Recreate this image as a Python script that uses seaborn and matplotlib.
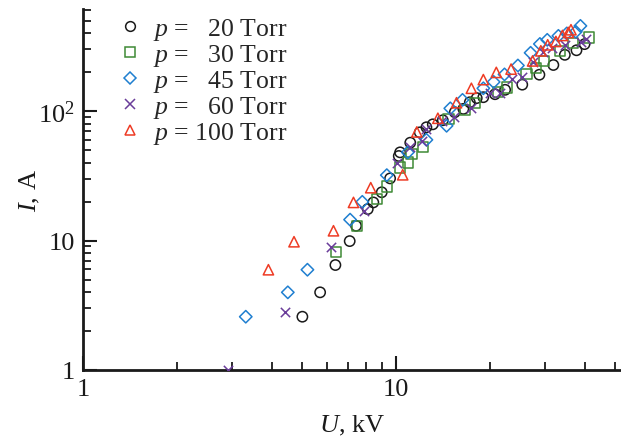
import numpy as np
import pandas as pd
import matplotlib
matplotlib.use("Agg")
import matplotlib.pyplot as plt
import seaborn as sns
from matplotlib.lines import Line2D
from matplotlib.ticker import FixedLocator, FixedFormatter, LogLocator, NullFormatter

# ---- data ----
u_20 = [5.02, 5.72, 6.4, 7.11, 7.45, 8.12, 8.46, 9.0, 9.57, 10.2, 10.3, 11.1, 11.9, 12.5, 13.1,
        14.1, 15.4, 16.4, 17.2, 18.1, 19.0, 20.7, 22.3, 25.3, 28.7, 31.8, 34.6, 37.7, 40.0]
i_20 = [2.58, 3.98, 6.47, 9.9, 13.0, 17.5, 19.7, 23.6, 30.2, 45, 48, 57, 68.5, 75, 79,
        85, 98, 104, 117, 126, 128, 135, 146, 160, 191, 227, 272, 295, 329]

u_30 = [6.43, 7.5, 8.67, 9.34, 10.3, 10.9, 11.2, 12.2, 14.7, 16.6, 17.9, 21.2, 22.6, 26.1,
        28.0, 29.7, 33.4, 36.8, 41.3]
i_30 = [8.19, 13, 20.9, 26.2, 36.7, 40, 46.5, 53, 86.8, 102, 116, 140, 152, 193,
        215, 244, 290, 335, 370]

u_45 = [3.31, 4.51, 5.21, 7.13, 7.8, 9.34, 10.9, 12.5, 14.5, 14.9, 16.3, 19.0, 20.5, 22.2,
        24.5, 26.9, 28.8, 30.4, 33.0, 35.1, 37.5, 38.8]
i_45 = [2.58, 3.98, 5.95, 14.5, 19.9, 32, 48, 60, 77, 105, 122, 150, 168, 192,
        225, 282, 330, 355, 381, 398, 410, 455]

u_60 = [2.91, 4.42, 6.2, 7.92, 10.1, 11.1, 12.1, 12.5, 14.0, 15.3, 17.3, 20.0, 21.5, 23.4,
        25.2, 27.3, 29.5, 31.4, 34.7, 39.0, 40.5]
i_60 = [1.0, 2.79, 8.96, 17.0, 39.7, 52.5, 59, 72.6, 84, 90, 105, 137, 139, 176,
        182, 240, 284, 305, 323, 339, 360]

u_100 = [3.91, 4.72, 6.31, 7.31, 8.3, 10.5, 11.65, 13.6, 15.6, 17.4, 19.0, 20.9, 23.3, 27.3,
         29.0, 30.5, 32.4, 34.0, 35.5, 36.2]
i_100 = [5.95, 9.79, 11.9, 19.7, 25.6, 32.2, 69, 88, 116, 150, 175, 199, 211, 244,
         292, 325, 345, 384, 405, 425]

pressures = [20, 30, 45, 60, 100]
labels = [r"$p$ =   20 Torr", r"$p$ =   30 Torr", r"$p$ =   45 Torr",
          r"$p$ =   60 Torr", r"$p$ = 100 Torr"]
series_u = [u_20, u_30, u_45, u_60, u_100]
series_i = [i_20, i_30, i_45, i_60, i_100]

x_ticks = [1, 10]
x_ticklabels = ["1", "10"]
y_ticks = [1, 10, 100]
y_ticklabels = ["1", "10", r"$10^2$"]

# ---- style ----
sns.set_theme(style="ticks")
plt.rcParams["font.family"] = ["Liberation Serif", "DejaVu Serif"]
plt.rcParams["mathtext.fontset"] = "custom"
plt.rcParams["mathtext.rm"] = "Liberation Serif"
plt.rcParams["mathtext.it"] = "Liberation Serif:italic"

colors = ["#1a1a1a", "#3f8a35", "#1f7fd0", "#6a3d9a", "#ee3b24"]
markers = ["o", "s", "D", "x", "^"]
sizes = [55, 55, 40, 45, 55]

frames = []
for p, u, i in zip(pressures, series_u, series_i):
    frames.append(pd.DataFrame({"U": u, "I": i, "p": p}))
df = pd.concat(frames, ignore_index=True)

fig = plt.figure(figsize=(6.21, 4.39), dpi=100)
ax = fig.add_axes([0.1337, 0.1549, 0.8663, 0.822])

for p, c, m, s in zip(pressures, colors, markers, sizes):
    sub = df[df["p"] == p]
    if m == "x":
        sns.scatterplot(data=sub, x="U", y="I", ax=ax, marker=m, s=s, color=c,
                        linewidth=1.1, legend=False, zorder=3)
    else:
        sns.scatterplot(data=sub, x="U", y="I", ax=ax, marker=m, s=s, facecolor="none",
                        edgecolor=c, linewidth=1.1, legend=False, zorder=3)

ax.set_xscale("log")
ax.set_yscale("log")
ax.set_xlim(1, 52.3)
ax.set_ylim(1, 613)

ax.xaxis.set_major_locator(FixedLocator(x_ticks))
ax.xaxis.set_major_formatter(FixedFormatter(x_ticklabels))
ax.xaxis.set_minor_locator(LogLocator(base=10, subs=np.arange(2, 10)))
ax.xaxis.set_minor_formatter(NullFormatter())
ax.yaxis.set_major_locator(FixedLocator(y_ticks))
ax.yaxis.set_major_formatter(FixedFormatter(y_ticklabels))
ax.yaxis.set_minor_locator(LogLocator(base=10, subs=np.arange(2, 10)))
ax.yaxis.set_minor_formatter(NullFormatter())

for side in ["top", "right"]:
    ax.spines[side].set_visible(False)
for side in ["left", "bottom"]:
    ax.spines[side].set_linewidth(2.0)
    ax.spines[side].set_color("#1a1a1a")

ax.tick_params(which="major", direction="in", length=10, width=1.5, labelsize=19,
               colors="#1a1a1a", pad=6)
ax.tick_params(which="minor", direction="in", length=6, width=1.3, colors="#1a1a1a")

ax.set_xlabel(r"$U$, kV", fontsize=19, color="#1a1a1a", labelpad=9)
ax.set_ylabel(r"$I$, A", fontsize=19, color="#1a1a1a", labelpad=-3)

handles = []
for c, m in zip(colors, markers):
    if m == "x":
        h = Line2D([], [], linestyle="none", marker=m, color=c, markersize=7, markeredgewidth=1.1)
    else:
        h = Line2D([], [], linestyle="none", marker=m, markerfacecolor="none",
                   markeredgecolor=c, markersize=7 if m != "D" else 6, markeredgewidth=1.1)
    handles.append(h)
leg = ax.legend(handles, labels, loc="upper left", bbox_to_anchor=(0.045, 1.01),
                frameon=False, fontsize=18.5, handlelength=1.0, handletextpad=0.4,
                labelspacing=0.0, borderaxespad=0.0)

fig.savefig("out.png", dpi=100)
